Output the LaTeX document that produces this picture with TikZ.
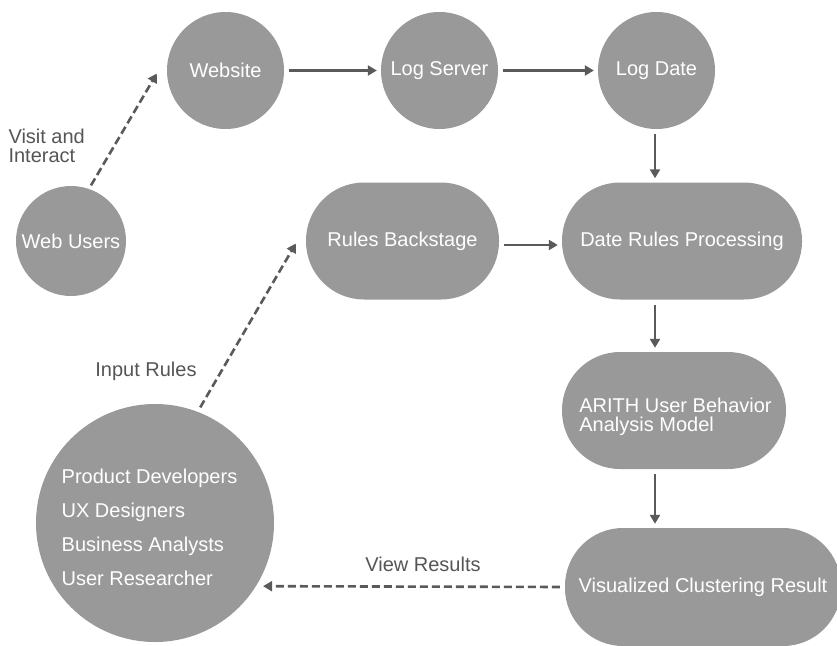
\documentclass[tikz,border=0pt]{standalone}
\usepackage{fontspec}
\setmainfont{Liberation Sans}
\usetikzlibrary{arrows.meta}
\definecolor{nodegray}{HTML}{999999}
\definecolor{linegray}{HTML}{5A5A5A}
\definecolor{labelgray}{HTML}{555555}

\begin{document}
\begin{tikzpicture}[x=1pt,y=-1pt,
  every node/.style={font=\fontsize{20}{19}\selectfont},
  blob/.style={circle, fill=nodegray, text=white, inner sep=0pt},
  pill/.style={rectangle, rounded corners=58pt, fill=nodegray, text=white,
               minimum height=117pt, inner sep=0pt},
  flow/.style={draw=linegray, line width=2.6pt,
               -{Triangle[length=9pt,width=10pt]},
               shorten <=5pt, shorten >=4pt},
  link/.style={flow, dash pattern=on 8pt off 4pt},
  note/.style={text=labelgray, align=left}]
\useasboundingbox (0,0) rectangle (837,645);

% top row: circles
\node[blob, minimum size=110pt] (wu) at (71,241) {Web Users};
\node[blob, minimum size=117pt] (ws) at (225.5,70.5) {Website};
\node[blob, minimum size=117pt] (ls) at (439.5,70.5) {Log Server};
\node[blob, minimum size=117pt] (ld) at (656.5,70.5) {Log Date};

% processing pills
\node[pill, minimum width=193pt] (rb) at (402.5,241) {Rules Backstage};
\node[pill, minimum width=240pt] (drp) at (682,241) {Date Rules Processing};
\node[pill, minimum width=224pt] (am) at (674,410.5) {};
\node[align=left, text=white, inner sep=0pt] (amtext) at (675.5,417)
  {ARITH User Behavior\\Analysis Model};
\node[pill, minimum width=276pt, minimum height=118pt] (vcr) at (703,587)
  {Visualized Clustering Result};

% stakeholders circle and its list
\node[blob, minimum size=238pt] (bc) at (155,523) {};
\node[align=left, text=white, inner sep=0pt,
      font=\fontsize{20}{34}\selectfont] (team) at (149.5,527)
  {Product Developers\\UX Designers\\Business Analysts\\User Researcher};

% vertical spine of the main flow
\coordinate (spine) at (655,0);

% main flow
\draw[flow] (ws) -- (ls);
\draw[flow] (ls) -- (ld);
\draw[flow] (spine |- ld.south) -- (spine |- drp.north);
\draw[flow] ([yshift=-4pt]rb.east) -- ([yshift=-4pt]drp.west);
\draw[flow] (spine |- drp.south) -- (spine |- am.north);
\draw[flow] (spine |- am.south) -- (spine |- vcr.north);

% interactions
\draw[link, shorten <=4pt, shorten >=0pt] (wu.71) -- ([xshift=-10pt,yshift=-3pt]ws.west);
\draw[link, shorten >=0pt] (bc.69) -- ([xshift=-10pt,yshift=-2.5pt]rb.west);
\draw[link, shorten <=5pt, shorten >=7pt] (vcr.west) -- (bc.-32.5);

% labels
\node[note, anchor=west] (vi) at (5,146) {Visit and\\Interact};
\node[note] (ir) at (146,371) {Input Rules};
\node[note] (vr) at (423,564) {View Results};
\end{tikzpicture}
\end{document}
